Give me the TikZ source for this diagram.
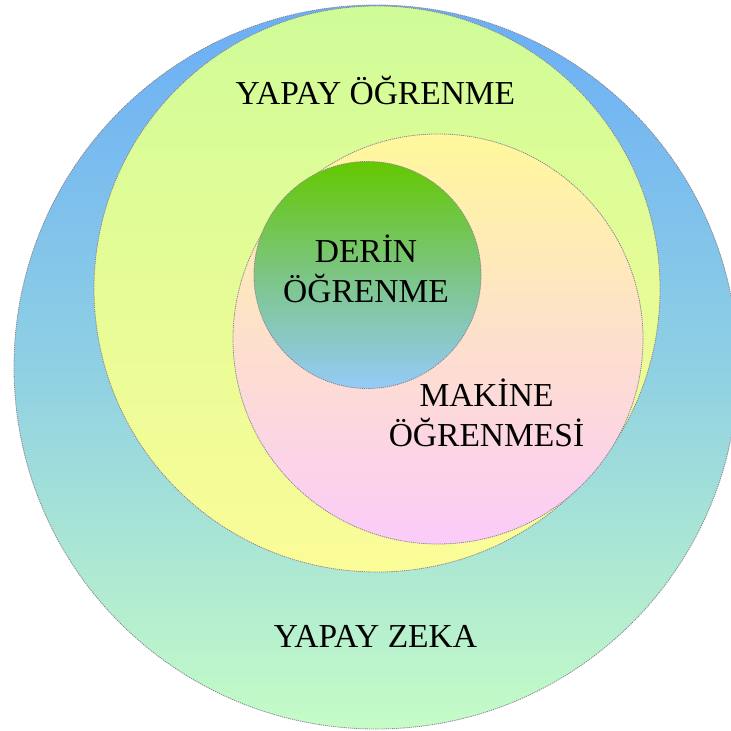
\documentclass[tikz,border=0pt]{standalone}
\usepackage{fontspec}
\setmainfont{Liberation Serif}
\definecolor{zTop}{HTML}{6AAEF7}
\definecolor{zMid}{HTML}{8FD0E3}
\definecolor{zBot}{HTML}{C5FCC6}
\definecolor{yTop}{HTML}{CFFC98}
\definecolor{yMid}{HTML}{E6FC96}
\definecolor{yBot}{HTML}{FBFC98}
\definecolor{mTop}{HTML}{FFF89C}
\definecolor{mMid}{HTML}{FDE0CC}
\definecolor{mBot}{HTML}{FBCBF9}
\definecolor{dTop}{HTML}{64C800}
\definecolor{dMid}{HTML}{7CC585}
\definecolor{dBot}{HTML}{94CBF8}
\definecolor{edge}{HTML}{8A8390}
\tikzset{
  ring/.style={circle, inner sep=0pt, draw=edge, line width=0.8pt, dash pattern=on 1.2pt off 0.9pt},
  lbl/.style={anchor=base, inner sep=0pt, font=\fontsize{33.5}{40}\selectfont, text=black}
}
\begin{document}
\begin{tikzpicture}[x=1pt,y=1pt]
\useasboundingbox (0,0) rectangle (731,731);
\node[ring, minimum size=724pt, top color=zTop, bottom color=zBot, middle color=zMid] (zeka) at (376,364) {};
\node[ring, minimum size=566pt, top color=yTop, bottom color=yBot, middle color=yMid] (yapay) at (377,442) {};
\node[ring, minimum size=410pt, top color=mTop, bottom color=mBot, middle color=mMid] (makine) at (438,392) {};
\node[ring, minimum size=227pt, top color=dTop, bottom color=dBot, middle color=dMid] (derin) at (367.5,456) {};
\node[lbl] (tYO) at (375.5,626) {YAPAY ÖĞRENME};
\node[lbl] (tYZ) at (375.5,83) {YAPAY ZEKA};
\node[lbl] (tD1) at (366,468) {DERİN};
\node[lbl] (tD2) at (366,428) {ÖĞRENME};
\node[lbl] (tM1) at (486.5,324) {MAKİNE};
\node[lbl] (tM2) at (486.5,284) {ÖĞRENMESİ};
\end{tikzpicture}
\end{document}
